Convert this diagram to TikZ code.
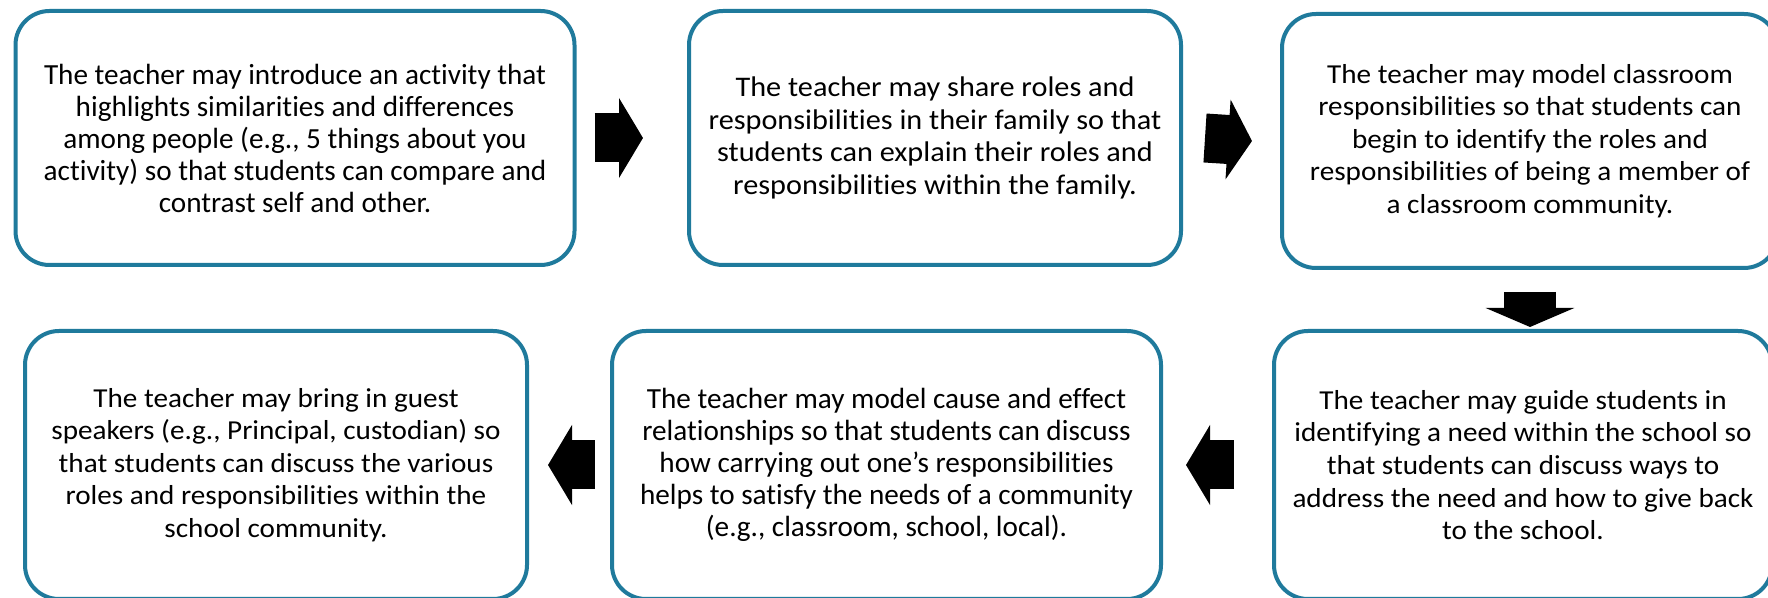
\documentclass[tikz,border=0pt]{standalone}
\usepackage{fontspec}
\setmainfont[Ligatures=NoCommon]{Carlito}
\newfontfamily\widefont[FakeStretch=1.065,Ligatures=NoCommon]{Carlito}
\usetikzlibrary{arrows.meta,calc}
\definecolor{boxblue}{RGB}{31,122,156}

\begin{document}
\begin{tikzpicture}[x=0.5pt,y=-0.5pt,
    card/.style={draw=boxblue, line width=2pt, rounded corners=17pt, align=center,
      inner sep=0pt, font=\fontsize{14.6}{16}\selectfont},
    widecard/.style={card, font=\widefont\fontsize{13.7}{16.3}\selectfont},
    fatarrow/.style={line width=24.5pt, -{Triangle[length=12pt,width=39.5pt]}},
    downarrow/.style={line width=26pt, -{Triangle[length=9.5pt,width=44pt]}}]
    \fill[white] (0,0) rectangle (1768,598);
    \useasboundingbox (0,0) rectangle (1768,598);

    %top row
    \node[card, minimum width=279.5pt, minimum height=127pt] (b1) at (295,138)
      {The teacher may introduce an activity that\\ highlights similarities and differences\\
       among people (e.g., 5 things about you\\ activity) so that students can compare and\\
       contrast self and other.};
    \node[widecard, font=\widefont\fontsize{14.2}{16.3}\selectfont,
      minimum width=246pt, minimum height=127pt] (b2) at (935,138)
      {The teacher may share roles and\\ responsibilities in their family so that\\
       students can explain their roles and\\ responsibilities within the family.};
    \node[widecard, minimum width=248pt, minimum height=127pt] (b3) at (1530,141)
      {The teacher may model classroom\\ responsibilities so that students can\\
       begin to identify the roles and\\ responsibilities of being a member of\\
       a classroom community.};

    %bottom row
    \node[widecard, minimum width=249pt, minimum height=134pt] (b4) at (1523,465)
      {The teacher may guide students in\\ identifying a need within the school so\\
       that students can discuss ways to\\ address the need and how to give back\\
       to the school.};
    \node[card, minimum width=274.5pt, minimum height=134pt] (b5) at (886.5,465)
      {The teacher may model cause and effect\\ relationships so that students can discuss\\
       how carrying out one’s responsibilities\\ helps to satisfy the needs of a community\\
       (e.g., classroom, school, local).};
    \node[widecard, minimum width=251pt, minimum height=134pt] (b6) at (276,465)
      {The teacher may bring in guest\\ speakers (e.g., Principal, custodian) so\\
       that students can discuss the various\\ roles and responsibilities within the\\
       school community.};

    %block arrows
    \draw[fatarrow] ([xshift=9pt]b1.east) -- ([xshift=-22pt]b2.west);
    \draw[fatarrow] ([xshift=11pt]b2.east) -- ([xshift=-14pt]b3.west);
    \draw[downarrow] ([yshift=-11pt]b3.south) -- ([yshift=1pt]b3.south |- b4.north);
    \draw[fatarrow] ([xshift=-19pt]b4.west) -- ([xshift=11.5pt]b5.east);
    \draw[fatarrow] ([xshift=-7.5pt]b5.west) -- ([xshift=9.5pt]b6.east);
\end{tikzpicture}
\end{document}
